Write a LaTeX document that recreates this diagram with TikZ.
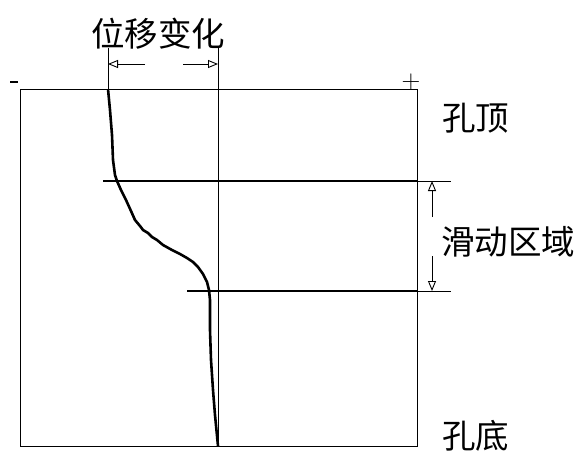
\documentclass[tikz,border=0pt]{standalone}
\usepackage{fontspec}
\newfontfamily\cjk{Noto Sans CJK SC}
\usetikzlibrary{arrows.meta}
\begin{document}
\begin{tikzpicture}[x=1pt,y=-1pt,
  thin line/.style={line width=0.9pt},
  open arrow/.style={thin line,-{Triangle[open,length=10pt,width=8pt]}},
  label text/.style={font=\cjk\fontsize{33.5}{35}\selectfont,inner sep=0pt},
  sign text/.style={font=\fontsize{26}{26}\selectfont,inner sep=0pt}]
\useasboundingbox (0,0) rectangle (583,452);
% frame
\draw[thin line] (20,89) rectangle (417,446);
% reference vertical line
\coordinate (refTop) at (218,48);
\coordinate (refBot) at (218,446);
\draw[thin line] (refTop) -- (refBot);
\coordinate (leftTop) at (108,48);
\coordinate (leftBot) at (108,89);
\draw[thin line] (leftTop) -- (leftBot);
% displacement arrows
\coordinate (la) at (145,64);
\coordinate (lb) at (108,64);
\coordinate (ra) at (183,64);
\coordinate (rb) at (218,64);
\draw[open arrow] (la) -- (lb);
\draw[open arrow] (ra) -- (rb);
% horizontal lines
\coordinate (h1a) at (103,181);
\coordinate (h1m) at (417,181);
\coordinate (h1b) at (451,181);
\draw[line width=1.6pt] (h1a) -- (h1m);
\draw[thin line] (h1m) -- (h1b);
\coordinate (h2a) at (187,291);
\coordinate (h2m) at (417,291);
\coordinate (h2b) at (451,291);
\draw[line width=1.3pt] (h2a) -- (h2m);
\draw[thin line] (h2m) -- (h2b);
% vertical dimension arrows
\coordinate (va) at (432,217);
\coordinate (vb) at (432,181);
\coordinate (vc) at (432,256);
\coordinate (vd) at (432,291);
\draw[open arrow] (va) -- (vb);
\draw[open arrow] (vc) -- (vd);
% displacement curve
\draw[line width=2.6pt,line join=round]
  (108,89) -- (110,110) -- (112,135) -- (113,160) -- (115,175) -- (117,181)
  -- (121,190) -- (126,200) -- (131,211) -- (135,220) -- (140,226) -- (143,230)
  -- (148,233) -- (152,237) -- (157,240) -- (163,245) -- (172,250) -- (180,254)
  -- (187,258) -- (193,262) -- (198,267) -- (203,274) -- (207,282) -- (209,290)
  -- (210,300) -- (210,330) -- (211,360) -- (213,390) -- (215,415) -- (218,446);
% signs
\draw[line width=1.8pt] (10,82) -- (18,82);
\node[sign text] (plus) at (411,82) {+};
% labels
\node[label text] (title) at (158,34) {位移变化};
\node[label text,anchor=west] (top) at (442,118) {孔顶};
\node[label text,anchor=west] (slide) at (441,242) {滑动区域};
\node[label text,anchor=west] (bottom) at (442,436) {孔底};
\end{tikzpicture}
\end{document}
